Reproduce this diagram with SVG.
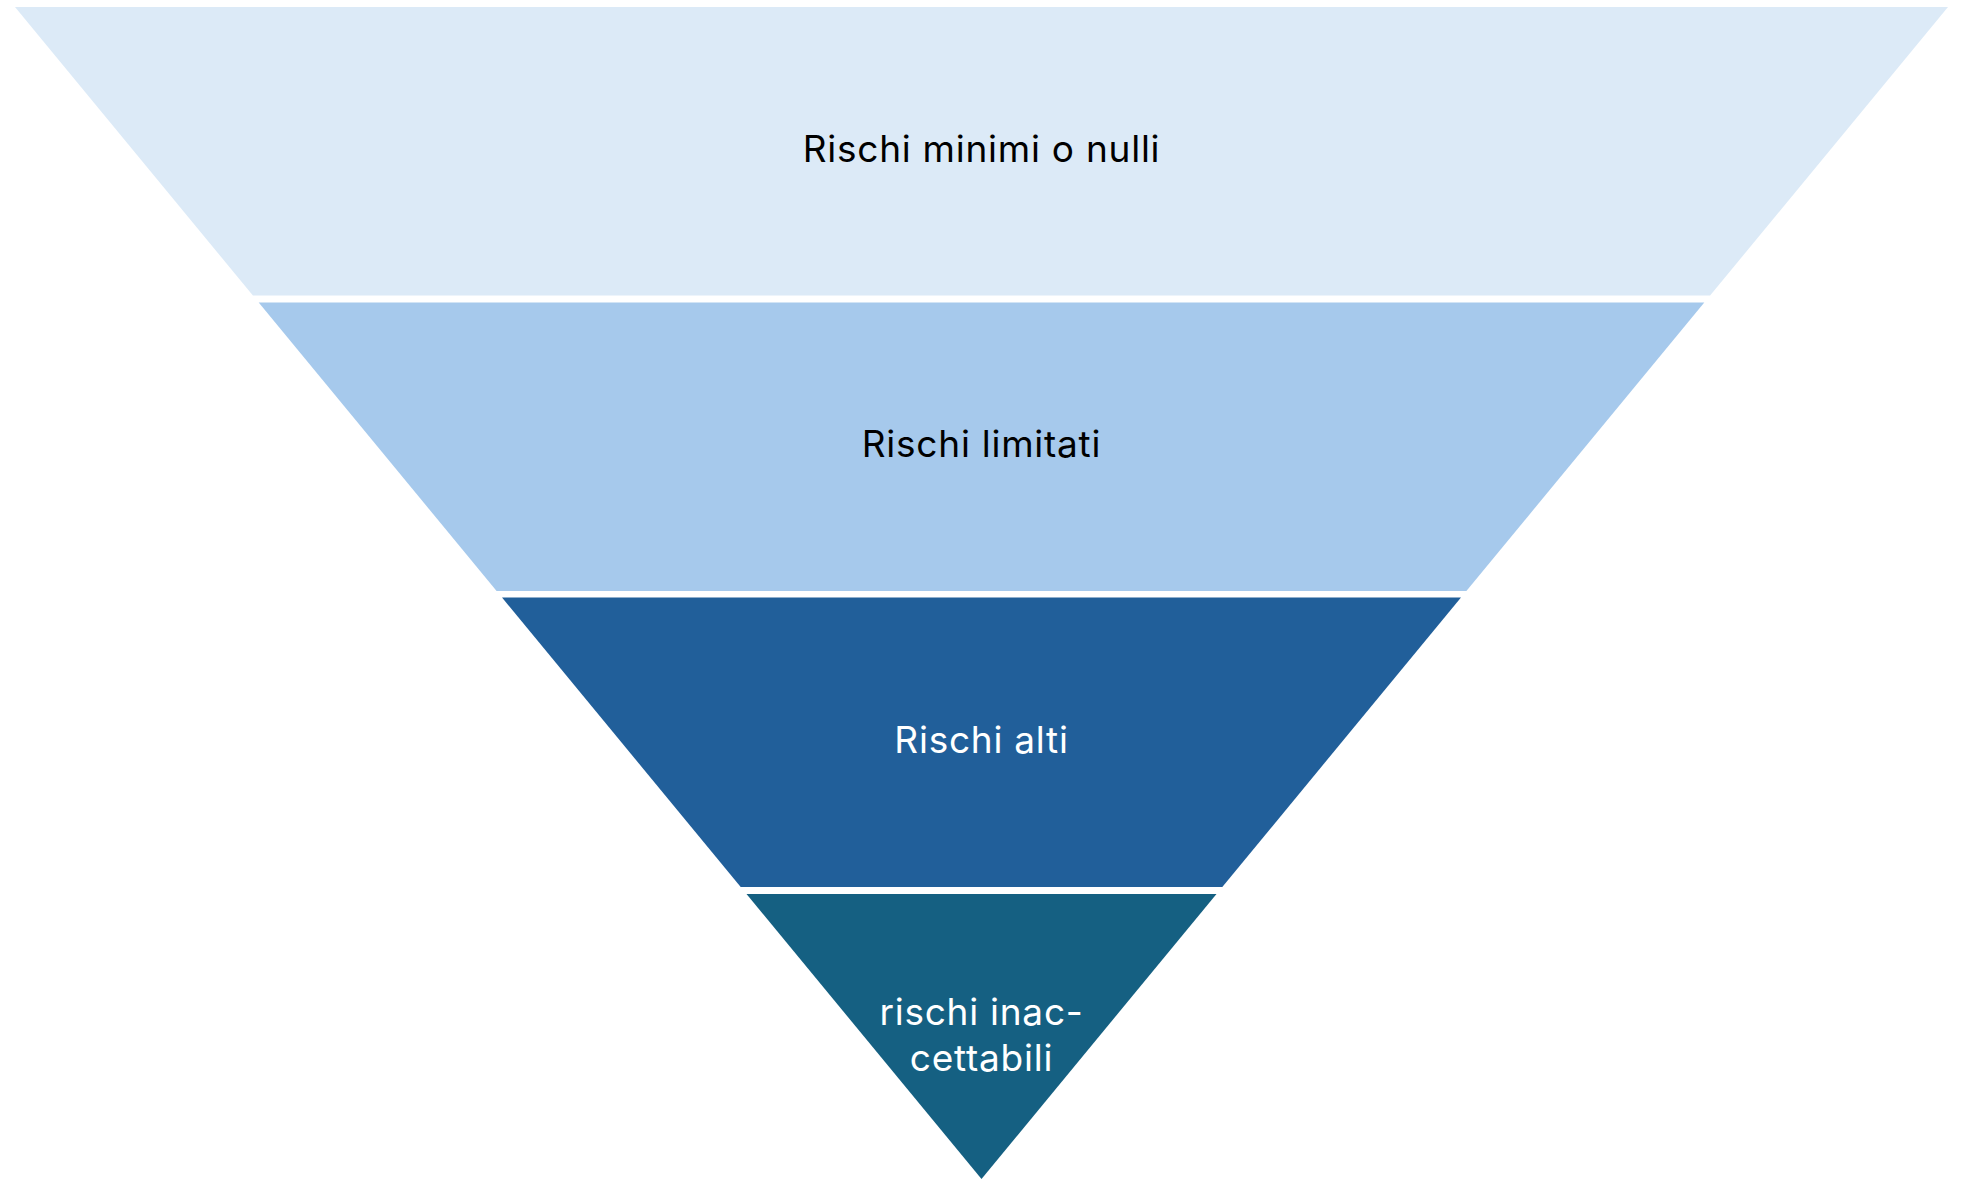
<svg xmlns="http://www.w3.org/2000/svg" width="1963" height="1189" viewBox="0 0 1963 1189">
<style>
.lbl{font-family:Inter,"Open Sans","Liberation Sans",sans-serif;font-size:37px;letter-spacing:0.75px;text-anchor:middle}
.dark{fill:#000000}
.light{fill:#ffffff}
</style>
<rect x="0" y="0" width="1963" height="1189" fill="#ffffff"/>
<g id="connectors"></g>
<g id="band1">
<polygon points="15,7 1948,7 1710.1,295.5 252.9,295.5" fill="#DCEAF7"/>
<text class="lbl dark" x="981.5" y="162">Rischi minimi o nulli</text>
</g>
<g id="band2">
<polygon points="258.7,302.5 1704.3,302.5 1466.4,591 496.6,591" fill="#A6C9EC"/>
<text class="lbl dark" x="981.5" y="457">Rischi limitati</text>
</g>
<g id="band3">
<polygon points="502,597.5 1461,597.5 1222.3,887 740.7,887" fill="#215F9A"/>
<text class="lbl light" x="981.5" y="753">Rischi alti</text>
</g>
<g id="band4">
<polygon points="746.5,894 1216.5,894 981.5,1179" fill="#156082"/>
<text class="lbl light" x="981.5" y="1025">rischi inac-</text>
<text class="lbl light" x="981.5" y="1071">cettabili</text>
</g>
</svg>
